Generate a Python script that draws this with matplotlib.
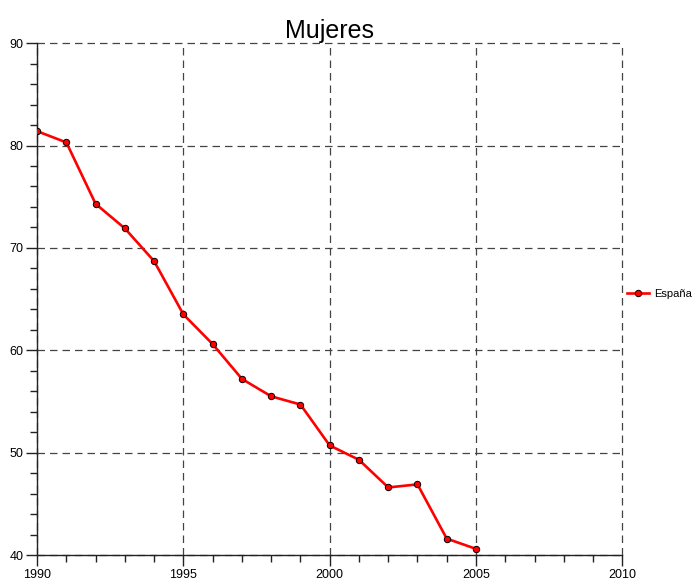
import matplotlib
matplotlib.use("Agg")
import matplotlib.pyplot as plt
from matplotlib.ticker import MultipleLocator

plt.rcParams['font.family'] = ['Liberation Sans', 'DejaVu Sans']

years = [1990, 1991, 1992, 1993, 1994, 1995, 1996, 1997, 1998, 1999,
         2000, 2001, 2002, 2003, 2004, 2005]
espana = [81.4, 80.3, 74.3, 71.9, 68.7, 63.5, 60.6, 57.2, 55.5, 54.7,
          50.7, 49.3, 46.6, 46.9, 41.6, 40.6]
series_label = "España"
title = "Mujeres"

fig = plt.figure(figsize=(7.0, 5.83), dpi=100)
ax = fig.add_axes([0.053, 0.048, 0.836, 0.878])

ax.plot(years, espana, color="#ff0000", linewidth=1.9, marker="o",
        markersize=4.6, markerfacecolor="#ff0000", markeredgecolor="#000000",
        markeredgewidth=0.7, label=series_label, zorder=3)

ax.set_xlim(1990, 2010)
ax.set_ylim(40, 90)
ax.xaxis.set_major_locator(MultipleLocator(5))
ax.xaxis.set_minor_locator(MultipleLocator(1))
ax.yaxis.set_major_locator(MultipleLocator(10))
ax.yaxis.set_minor_locator(MultipleLocator(2))

ax.grid(True, which="major", color="#444444", linestyle=(0, (6, 4)),
        linewidth=0.9)
ax.set_axisbelow(True)
# keep the grid lines on the outer limits (top and right edges) visible
for gl in ax.get_xgridlines() + ax.get_ygridlines():
    gl.set_clip_on(False)

for side in ("top", "right"):
    ax.spines[side].set_visible(False)
for side in ("left", "bottom"):
    ax.spines[side].set_color("#222222")
    ax.spines[side].set_linewidth(1.0)

ax.tick_params(which="major", direction="out", length=8, width=1.0,
               color="#222222", labelsize=9, pad=2)
ax.tick_params(which="minor", direction="out", length=5, width=1.0,
               color="#222222")

ax.set_title(title, fontsize=18, pad=2)

ax.legend(loc="center left", bbox_to_anchor=(1.0, 0.51), frameon=False,
          fontsize=8, handlelength=2.0, handletextpad=0.45,
          borderaxespad=0.0, borderpad=0.4)

fig.savefig("out.png", dpi=100)
